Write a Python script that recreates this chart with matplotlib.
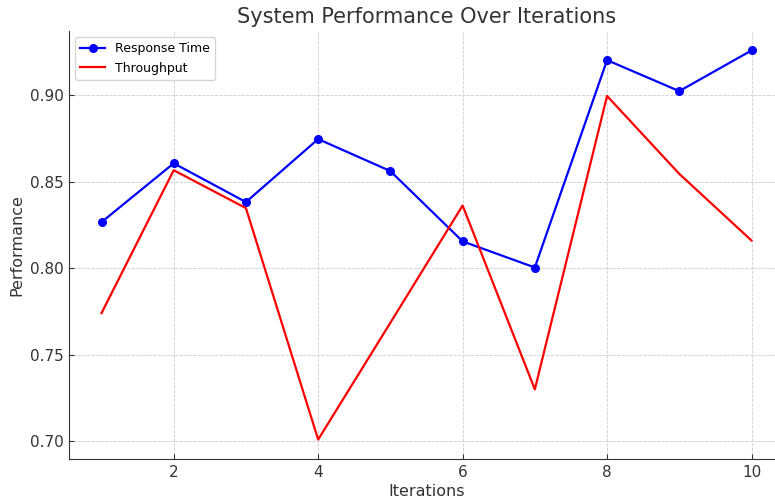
import matplotlib
matplotlib.use("Agg")
import matplotlib.pyplot as plt

# values
iterations = [1, 2, 3, 4, 5, 6, 7, 8, 9, 10]
response_time = [0.8266, 0.8606, 0.8382, 0.8746, 0.8561, 0.8155, 0.8004, 0.9202, 0.9023, 0.9258]
throughput = [0.7740, 0.8566, 0.8347, 0.7010, 0.7685, 0.8362, 0.7300, 0.8995, 0.8545, 0.8160]

fig = plt.figure(figsize=(7.75, 4.99), dpi=100)
ax = fig.add_axes([69/775, 40/499, (784-69)/775, 428/499])

ax.plot(iterations, response_time, color='blue', marker='o', markersize=5.5, linewidth=1.6, label='Response Time')
ax.plot(iterations, throughput, color='red', linewidth=1.6, label='Throughput')

ax.set_title('System Performance Over Iterations', fontsize=15, color='#333333')
ax.set_xlabel('Iterations', fontsize=11.5, color='#333333', labelpad=3)
ax.set_ylabel('Performance', fontsize=11.5, color='#333333')

ax.set_xticks([2, 4, 6, 8, 10])
ax.set_yticks([0.70, 0.75, 0.80, 0.85, 0.90])
ax.tick_params(labelsize=11, colors='#333333', direction='in', length=3.5, pad=4)

ax.spines['right'].set_visible(False)
ax.spines['top'].set_visible(False)
ax.spines['left'].set_color('#333333')
ax.spines['bottom'].set_color('#333333')

ax.grid(color='#cccccc', linestyle='--', linewidth=0.6)
ax.legend(loc='upper left', fontsize=9)

plt.savefig('out.png', dpi=100)
